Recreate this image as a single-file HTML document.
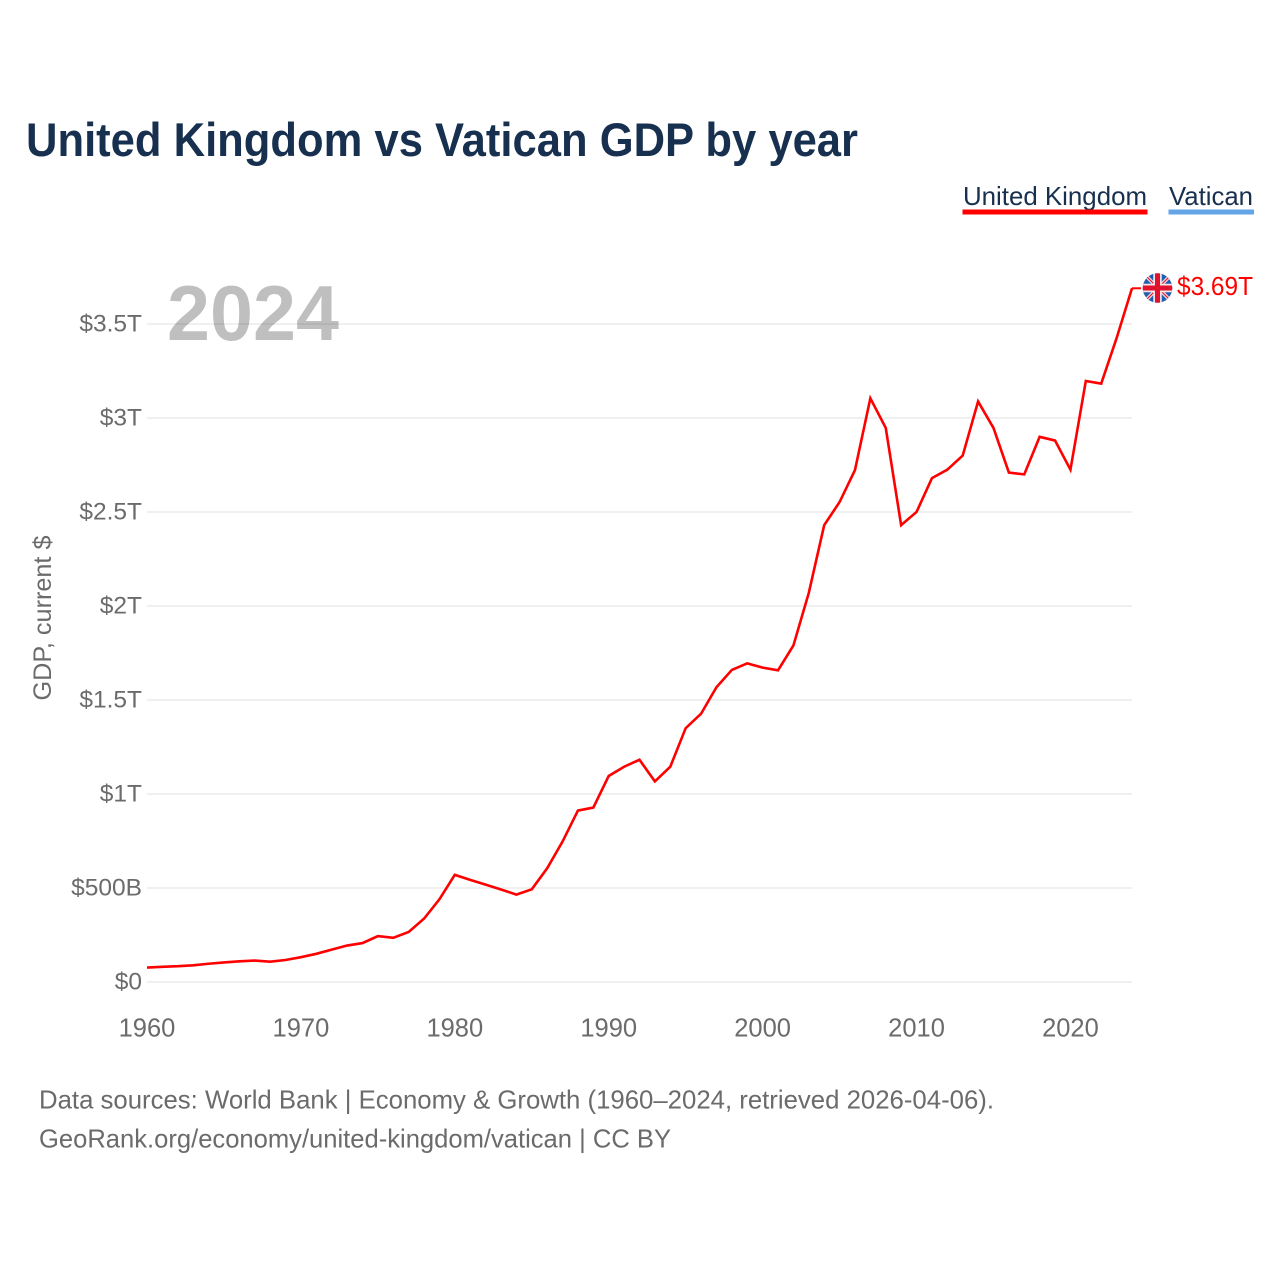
<!DOCTYPE html>
<html lang="en">
<head>
<meta charset="utf-8">
<title>United Kingdom vs Vatican GDP by year</title>
<style>
html,body{margin:0;padding:0;background:#fff;}
svg{display:block;font-family:"Liberation Sans",sans-serif;}
</style>
</head>
<body>
<svg id="chart" width="1280" height="1280" viewBox="0 0 1280 1280" xmlns="http://www.w3.org/2000/svg">
  <defs>
    <clipPath id="flag-clip"><circle cx="1157.5" cy="288" r="14.8"/></clipPath>
  </defs>
  <rect width="1280" height="1280" fill="#ffffff"/>

  <text x="26" y="156" font-size="47" font-weight="700" fill="#18304f" textLength="832" lengthAdjust="spacingAndGlyphs">United Kingdom vs Vatican GDP by year</text>

  <g>
    <g>
      <text x="963" y="205" font-size="26" fill="#18304f" textLength="184" lengthAdjust="spacingAndGlyphs">United Kingdom</text>
      <rect x="962.5" y="209.5" width="185" height="5" fill="#ff0000"/>
    </g>
    <g>
      <text x="1169" y="205" font-size="26" fill="#18304f" textLength="84" lengthAdjust="spacingAndGlyphs">Vatican</text>
      <rect x="1168.5" y="209.5" width="85.5" height="5" fill="#64a5e8"/>
    </g>
  </g>

  <g id="grid"></g>
  <g id="y-axis"></g>
  <g id="x-axis"></g>

  <text transform="translate(51,618) rotate(-90)" text-anchor="middle" font-size="25" fill="#6b6b6b" textLength="165" lengthAdjust="spacingAndGlyphs">GDP, current $</text>

  <g id="series"></g>

  <text x="167" y="340" font-size="78" font-weight="700" fill="#000000" fill-opacity="0.25" textLength="172" lengthAdjust="spacingAndGlyphs">2024</text>

  <g id="end-flag">
    <g clip-path="url(#flag-clip)">
      <rect x="1142" y="272" width="32" height="32" fill="#1f5fb0"/>
      <path d="M1142 272L1174 304M1174 272L1142 304" stroke="#f4d8d8" stroke-width="3.6"/>
      <path d="M1142 272L1174 304M1174 272L1142 304" stroke="#e8112d" stroke-width="1.1"/>
      <path d="M1157.5 272V304M1142 288H1174" stroke="#f8e4e4" stroke-width="8.5"/>
      <path d="M1157.5 272V304M1142 288H1174" stroke="#e0122f" stroke-width="5"/>
    </g>
  </g>
  <text id="end-value" x="1177" y="295" font-size="25.5" fill="#ff0000" textLength="76" lengthAdjust="spacingAndGlyphs">$3.69T</text>

  <g>
    <text x="39" y="1108.5" font-size="26" fill="#6b6b6b" textLength="955" lengthAdjust="spacingAndGlyphs">Data sources: World Bank | Economy &amp; Growth (1960–2024, retrieved 2026-04-06).</text>
    <text x="39" y="1147.5" font-size="26" fill="#6b6b6b" textLength="632" lengthAdjust="spacingAndGlyphs">GeoRank.org/economy/united-kingdom/vatican | CC BY</text>
  </g>
</svg>

<script>
const years = [1960,1961,1962,1963,1964,1965,1966,1967,1968,1969,
  1970,1971,1972,1973,1974,1975,1976,1977,1978,1979,
  1980,1981,1982,1983,1984,1985,1986,1987,1988,1989,
  1990,1991,1992,1993,1994,1995,1996,1997,1998,1999,
  2000,2001,2002,2003,2004,2005,2006,2007,2008,2009,
  2010,2011,2012,2013,2014,2015,2016,2017,2018,2019,
  2020,2021,2022,2023,2024];
const ukGdpTrillions = [0.077,0.081,0.084,0.089,0.097,0.104,0.110,0.114,0.108,0.117,
  0.132,0.150,0.172,0.194,0.207,0.244,0.235,0.266,0.337,0.440,
  0.570,0.543,0.518,0.492,0.465,0.493,0.605,0.747,0.912,0.928,
  1.096,1.145,1.182,1.067,1.145,1.350,1.427,1.568,1.660,1.695,
  1.672,1.658,1.790,2.070,2.430,2.553,2.723,3.105,2.947,2.430,
  2.500,2.680,2.725,2.800,3.088,2.947,2.710,2.700,2.900,2.880,
  2.725,3.197,3.183,3.425,3.690];
const yTickValues = [0,0.5,1,1.5,2,2.5,3,3.5];
const yTickLabels = ["$0","$500B","$1T","$1.5T","$2T","$2.5T","$3T","$3.5T"];
const xTickYears = [1960,1970,1980,1990,2000,2010,2020];

const SVG_NS = "http://www.w3.org/2000/svg";
const xScale = function (year) { return 147 + (year - 1960) * (1132 - 147) / (2024 - 1960); };
const yScale = function (value) { return 982 - value * 188; };

const gridGroup = document.getElementById("grid");
const yAxisGroup = document.getElementById("y-axis");
const xAxisGroup = document.getElementById("x-axis");
const seriesGroup = document.getElementById("series");

yTickValues.forEach(function (value, i) {
  const line = document.createElementNS(SVG_NS, "line");
  
  
  line.setAttribute("x1", xScale(1960));
  line.setAttribute("x2", xScale(2024));
  line.setAttribute("y1", yScale(value));
  line.setAttribute("y2", yScale(value));
  line.setAttribute("stroke", "#f0f0f0");
  line.setAttribute("stroke-width", "2");
  gridGroup.appendChild(line);

  const label = document.createElementNS(SVG_NS, "text");
  
  
  label.setAttribute("x", 142);
  label.setAttribute("y", yScale(value) + 7.5);
  label.setAttribute("text-anchor", "end");
  label.setAttribute("font-size", "24.5");
  label.setAttribute("fill", "#6b6b6b");
  label.textContent = yTickLabels[i];
  yAxisGroup.appendChild(label);
});

xTickYears.forEach(function (year) {
  const label = document.createElementNS(SVG_NS, "text");
  
  
  label.setAttribute("x", xScale(year));
  label.setAttribute("y", 1036.5);
  label.setAttribute("text-anchor", "middle");
  label.setAttribute("font-size", "25.5");
  label.setAttribute("fill", "#6b6b6b");
  label.textContent = String(year);
  xAxisGroup.appendChild(label);
});

const linePoints = years.map(function (year, i) {
  return xScale(year).toFixed(2) + "," + yScale(ukGdpTrillions[i]).toFixed(2);
});
const seriesLine = document.createElementNS(SVG_NS, "polyline");


seriesLine.setAttribute("points", linePoints.join(" "));
seriesLine.setAttribute("fill", "none");
seriesLine.setAttribute("stroke", "#ff0000");
seriesLine.setAttribute("stroke-width", "2.6");
seriesLine.setAttribute("stroke-linejoin", "miter");
seriesGroup.appendChild(seriesLine);

const lastValue = ukGdpTrillions[ukGdpTrillions.length - 1];
const lastYear = years[years.length - 1];
const leader = document.createElementNS(SVG_NS, "line");


leader.setAttribute("x1", xScale(lastYear));
leader.setAttribute("x2", xScale(lastYear) + 9);
leader.setAttribute("y1", yScale(lastValue));
leader.setAttribute("y2", yScale(lastValue));
leader.setAttribute("stroke", "#ff0000");
leader.setAttribute("stroke-width", "2");
seriesGroup.appendChild(leader);
</script>
</body>
</html>
